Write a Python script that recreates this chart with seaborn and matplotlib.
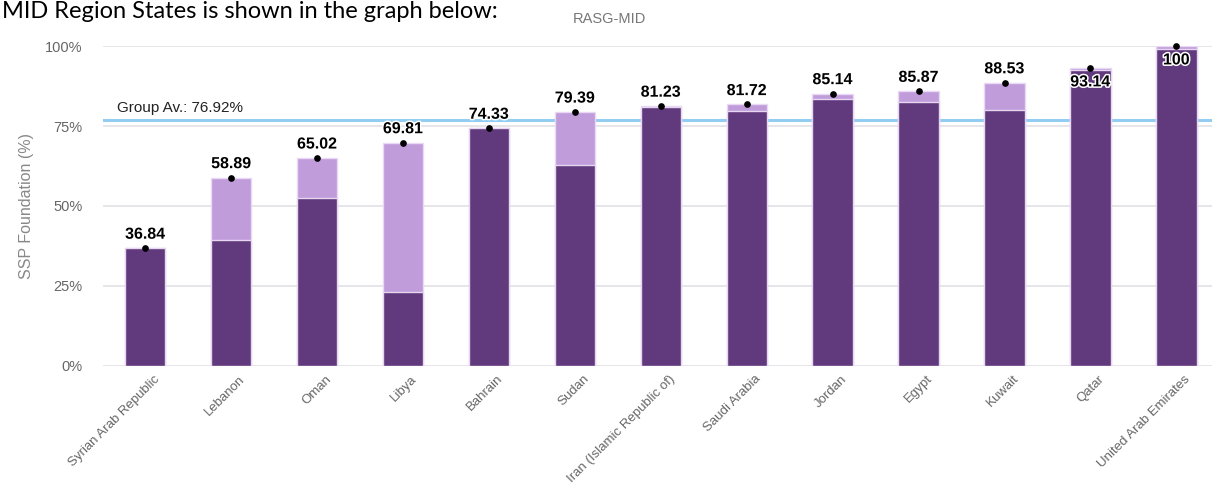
import matplotlib
matplotlib.use("Agg")
import matplotlib.pyplot as plt
import matplotlib.patheffects as pe
import matplotlib.transforms as mtransforms
import seaborn as sns
import pandas as pd

# State names, overall SSP foundation score, and the implemented share
states = ["Syrian Arab Republic", "Lebanon", "Oman", "Libya", "Bahrain", "Sudan",
          "Iran (Islamic Republic of)", "Saudi Arabia", "Jordan", "Egypt", "Kuwait",
          "Qatar", "United Arab Emirates"]
totals = [36.84, 58.89, 65.02, 69.81, 74.33, 79.39, 81.23, 81.72, 85.14, 85.87,
          88.53, 93.14, 100]
implemented = [36.84, 39.4, 52.5, 23.1, 74.33, 62.8, 81.0, 79.7, 83.4, 82.5,
               80.0, 92.5, 99.0]
group_avg = 76.92
yticks = [0, 25, 50, 75, 100]

df = pd.DataFrame({"state": states, "total": totals, "implemented": implemented})

sns.set_theme(style="white")
plt.rcParams["font.family"] = ["Liberation Sans", "DejaVu Sans"]

DARK = "#613a7d"
LIGHT = "#c09cdb"
GRID = "#e3e3e8"
TXT = "#666666"

fig = plt.figure(figsize=(12.14, 4.91), dpi=100)
ax = fig.add_axes([0.085, 0.2546, 0.913, 0.6517])

ax.set_axisbelow(True)
for t in yticks:
    ax.axhline(t, color=GRID, lw=1.3 if t else 2, zorder=0)

sns.barplot(data=df, x="state", y="total", color=LIGHT, width=0.47,
            edgecolor="#ead9f5", linewidth=1, saturation=1, ax=ax, zorder=2)
sns.barplot(data=df, x="state", y="implemented", color=DARK, width=0.47,
            edgecolor="#e6d6f0", linewidth=1, saturation=1, ax=ax, zorder=3)

ax.axhline(group_avg, color="#93cdf2", lw=2.2, zorder=1)
ax.text(-0.33, group_avg + 1.6, f"Group Av.: {group_avg:.2f}%", fontsize=11,
        color="#222222", va="bottom", ha="left")

halo = [pe.withStroke(linewidth=2.2, foreground="white")]
for i, v in enumerate(totals):
    ax.plot(i, v, "o", color="black", ms=3.8, zorder=5, clip_on=False)
    label = f"{v:g}" if v != int(v) else f"{int(v)}"
    if v > 90:
        ax.text(i, v - 2.0, label, ha="center", va="top", fontsize=11.5,
                fontweight="bold", color="black", path_effects=halo, zorder=6)
    else:
        ax.text(i, v + 2.0, label, ha="center", va="bottom", fontsize=11.5,
                fontweight="bold", color="black", path_effects=halo, zorder=6)

ax.set_xlim(-0.49, 12.41)
ax.set_ylim(0, 100)
ax.set_yticks(yticks)
ax.set_yticklabels([f"{t}%" for t in yticks], color=TXT, fontsize=10.5)
ax.tick_params(axis="y", length=0, pad=15)
ax.tick_params(axis="x", length=0, pad=5)
ax.set_xticks(range(len(states)))
ax.set_xticklabels(states, rotation=45, ha="right", rotation_mode="anchor",
                   fontsize=9.5, color=TXT)
shift = mtransforms.ScaledTranslation(8 / 100, 0, fig.dpi_scale_trans)
for lbl in ax.get_xticklabels():
    lbl.set_transform(lbl.get_transform() + shift)
ax.set_xlabel("")
ax.set_ylabel("SSP Foundation (%)", color="#888888", fontsize=11.5, labelpad=8)
for s in ax.spines.values():
    s.set_visible(False)

fig.text(0.502, 0.962, "RASG-MID", ha="center", va="center", fontsize=10.5,
         color="#777777")
fig.text(0.002, 0.998, "MID Region States is shown in the graph below:",
         ha="left", va="top", fontsize=17, color="black",
         family=["Lato", "DejaVu Sans"])

fig.savefig("out.png", dpi=100, facecolor="white")
